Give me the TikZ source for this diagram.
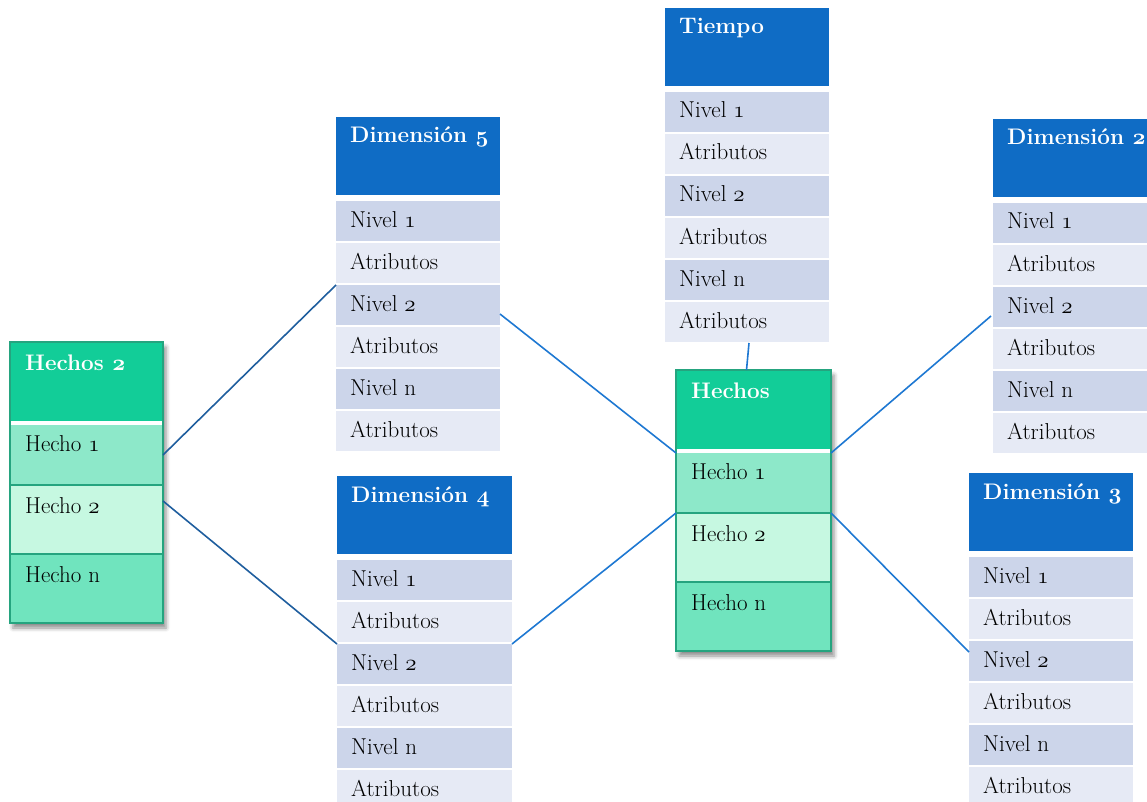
\RequirePackage{fix-cm}
\documentclass[tikz,border=0pt]{standalone}
\usetikzlibrary{shadows.blur}

\definecolor{dimblue}{HTML}{0F6CC5}
\definecolor{rowdark}{HTML}{CCD5EA}
\definecolor{rowlight}{HTML}{E6EAF5}
\definecolor{factgreen}{HTML}{12CD98}
\definecolor{factedge}{HTML}{25A47F}
\definecolor{factone}{HTML}{8DE8C9}
\definecolor{facttwo}{HTML}{C6F8E1}
\definecolor{factn}{HTML}{70E4BE}
\definecolor{linkdark}{HTML}{1F5E9E}
\definecolor{linklight}{HTML}{1E78D2}

\tikzset{
  cell/.style={draw=none, inner sep=0pt, outer sep=0pt, anchor=north west},
  hdrtext/.style={text=white, font=\fontsize{22.5}{26}\selectfont\bfseries, inner sep=0pt, anchor=base west},
  celltext/.style={text=black, font=\fontsize{23}{26}\selectfont, inner sep=0pt, anchor=base west},
  link/.style={line width=1.6pt, linklight},
  darklink/.style={line width=1.6pt, linkdark},
  factframe/.style={cell, fill=white, draw=factedge, line width=1.2pt,
    blur shadow={shadow xshift=3pt, shadow yshift=-5pt, shadow blur radius=4pt, shadow opacity=45}},
}

% old-style figures, regular and bold
\newcommand\osf[1]{{\fontencoding{OML}\fontfamily{cmm}\fontseries{m}\fontshape{it}\selectfont #1}}
\newcommand\osfb[1]{{\fontencoding{OML}\fontfamily{cmm}\fontseries{b}\fontshape{it}\selectfont #1}}

% one level row of a dimension table: name, node above, gap, width, text, fill
\newcommand\dimrow[6]{%
  \node[cell, fill=#6, minimum width=#4pt, minimum height=40pt] (#1) at ([yshift=-#3pt]#2.south west) {};
  \node[celltext] (#1x) at ([xshift=14pt,yshift=-26pt]#1.north west) {#5};
}

% dimension table: name, left, top, width, title
\newcommand\dimtable[5]{%
  \node[cell, fill=dimblue, minimum width=#4pt, minimum height=78pt] (#1h) at (#2,#3) {};
  \node[hdrtext] (#1t) at ([xshift=14pt,yshift=-26pt]#1h.north west) {#5};
  \dimrow{#1r1}{#1h}{6}{#4}{Nivel \osf{1}}{rowdark}
  \dimrow{#1r2}{#1r1}{2}{#4}{Atributos}{rowlight}
  \dimrow{#1r3}{#1r2}{2}{#4}{Nivel \osf{2}}{rowdark}
  \dimrow{#1r4}{#1r3}{2}{#4}{Atributos}{rowlight}
  \dimrow{#1r5}{#1r4}{2}{#4}{Nivel n}{rowdark}
  \dimrow{#1r6}{#1r5}{2}{#4}{Atributos}{rowlight}
}

% fact table: name, left, top, width, title
\newcommand\facttable[5]{%
  \node[factframe, minimum width=#4pt, minimum height=281pt] (#1) at (#2,#3) {};
  \node[cell, fill=factgreen, minimum width=#4pt, minimum height=79pt] (#1h) at (#2,#3) {};
  \node[cell, fill=factone, minimum width=#4pt, minimum height=60pt] (#1r1) at ([yshift=-4pt]#1h.south west) {};
  \node[cell, fill=facttwo, minimum width=#4pt, minimum height=69pt] (#1r2) at (#1r1.south west) {};
  \node[cell, fill=factn, minimum width=#4pt, minimum height=69pt] (#1r3) at (#1r2.south west) {};
  \draw[factedge, line width=1.2pt] (#1r2.north west) -- (#1r2.north east)
    (#1r3.north west) -- (#1r3.north east) (#1.north west) rectangle (#1.south east);
  \node[hdrtext] (#1t) at ([xshift=15pt,yshift=-28pt]#1h.north west) {#5};
  \node[celltext] (#1l1) at ([xshift=15pt,yshift=-26pt]#1r1.north west) {Hecho \osf{1}};
  \node[celltext] (#1l2) at ([xshift=15pt,yshift=-28pt]#1r2.north west) {Hecho \osf{2}};
  \node[celltext] (#1l3) at ([xshift=15pt,yshift=-28pt]#1r3.north west) {Hecho n};
}

\begin{document}
\begin{tikzpicture}[x=1pt, y=-1pt]
  \useasboundingbox (0,0) rectangle (1147,802);
  \clip (0,0) rectangle (1147,802);

  \dimtable{t}{665}{8}{164}{Tiempo}
  \dimtable{dv}{336}{117}{164}{Dimensión \osfb{5}}
  \dimtable{dd}{993}{119}{164}{Dimensión \osfb{2}}
  \dimtable{dc}{337}{476}{175}{Dimensión \osfb{4}}
  \dimtable{dt}{969}{473}{164}{Dimensión \osfb{3}}

  \facttable{hb}{10}{342}{153}{Hechos \osfb{2}}
  \facttable{hf}{676}{370}{155}{Hechos}

  % links of the second fact table
  \draw[darklink] (hbr1.east) -- (dvr3.north west);
  \draw[darklink] ([yshift=-16pt]hbr2.north east) -- (dcr3.north west);

  % links of the main fact table
  \draw[link] ([yshift=-29pt]dvr3.north east) -- (hfr1.north west);
  \draw[link] (dcr3.north east) -- (hfr2.north west);
  \draw[link] ([xshift=2pt,yshift=-1pt]tr6.south) -- ([xshift=-7pt]hf.north);
  \draw[link] (hfr1.north east) -- ([xshift=-2pt,yshift=-29pt]ddr3.north west);
  \draw[link] (hfr2.north east) -- ([yshift=-11pt]dtr3.north west);
\end{tikzpicture}
\end{document}
